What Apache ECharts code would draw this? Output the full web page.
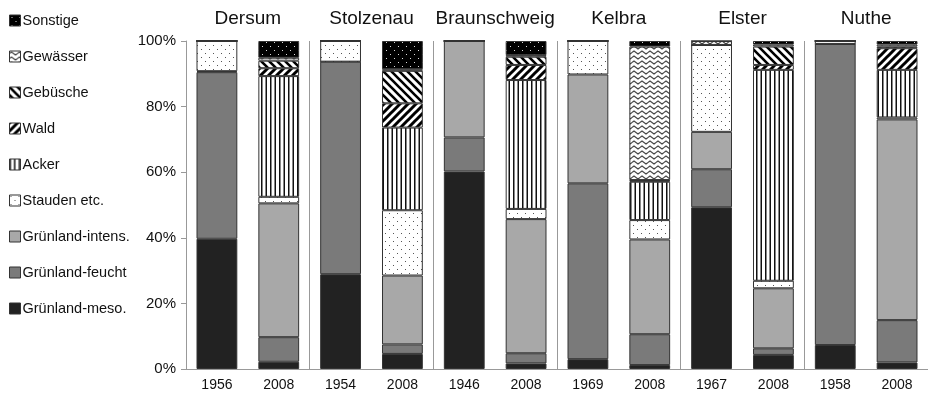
<!DOCTYPE html>
<html>
<head>
<meta charset="UTF-8">
<title>Landnutzung</title>
<script src="https://cdn.jsdelivr.net/npm/echarts@6/dist/echarts.min.js"></script>
<style>
    *{padding:0;margin:0}
    body{background:#fff}
    #chart{width:928px;height:401px}
</style>
</head>
<body>
<div id="chart"></div>
<script>
    // Kategorien
    var years = ['1956','2008','1954','2008','1946','2008','1969','2008','1967','2008','1958','2008'];
    var sites = ['Dersum','Stolzenau','Braunschweig','Kelbra','Elster','Nuthe'];
    var yTicks = [0,20,40,60,80,100];

    // Anteile in % (von unten nach oben gestapelt)
    var meso      = [39.7, 2.2, 28.9, 4.6, 60.2, 1.7,  3.0,  1.2, 49.3,  4.3,  7.3,  2.0];
    var feucht    = [50.8, 7.5, 64.8, 2.9, 10.4, 3.1, 53.6,  9.4, 11.6,  2.0, 91.8, 12.9];
    var intens    = [ 0.3,40.8,  0, 21.0, 29.4,40.9, 33.2, 28.9, 11.4, 18.3,  0,   61.2];
    var stauden   = [ 9.2, 2.0,  6.3,19.9,  0,   3.1, 10.2,  5.9, 26.5,  2.3,  0.9,  0.6];
    var acker     = [ 0,  36.8,  0, 25.2,  0,  39.3,  0,   11.7,  0,   64.3,  0,   14.5];
    var wald      = [ 0,   2.4,  0,  7.4,  0,   4.6,  0,    0.3,  0,    1.5,  0,    6.6];
    var gebuesche = [ 0,   2.3,  0,  9.9,  0,   2.5,  0,    0.2,  0,    5.6,  0,    0.5];
    var gewaesser = [ 0,   0.9,  0,  0.5,  0,   0.5,  0,   40.7,  1.2,  0.6,  0,    0.6];
    var sonstige  = [ 0,   5.1,  0,  8.6,  0,   4.3,  0,    1.7,  0,    1.1,  0,    1.1];

    // Schraffuren als Canvas-Muster
    function pattern(w, h, draw){
        var c = document.createElement('canvas');
        c.width = w; c.height = h;
        var ctx = c.getContext('2d');
        draw(ctx, w, h);
        return {image: c, repeat: 'repeat'};
    }
    var pStauden = pattern(8, 8, function(ctx){
        ctx.fillStyle = '#fff'; ctx.fillRect(0,0,8,8);
        ctx.fillStyle = '#555';
        ctx.fillRect(1,1,1,1); ctx.fillRect(5,5,1,1);
    });
    var pAcker = pattern(9, 4, function(ctx){
        ctx.fillStyle = '#fff'; ctx.fillRect(0,0,9,4);
        ctx.fillStyle = '#111';
        ctx.fillRect(0,0,1.5,4); ctx.fillRect(4.5,0,1.5,4);
    });
    var pWald = pattern(8, 8, function(ctx){
        ctx.fillStyle = '#fff'; ctx.fillRect(0,0,8,8);
        ctx.strokeStyle = '#000'; ctx.lineWidth = 3;
        ctx.beginPath();
        ctx.moveTo(-2,10); ctx.lineTo(10,-2);
        ctx.moveTo(-6,6); ctx.lineTo(6,-6);
        ctx.moveTo(2,14); ctx.lineTo(14,2);
        ctx.stroke();
    });
    var pGebuesche = pattern(8, 8, function(ctx){
        ctx.fillStyle = '#fff'; ctx.fillRect(0,0,8,8);
        ctx.strokeStyle = '#000'; ctx.lineWidth = 2.6;
        ctx.beginPath();
        ctx.moveTo(-2,-2); ctx.lineTo(10,10);
        ctx.moveTo(-6,2); ctx.lineTo(6,14);
        ctx.moveTo(2,-6); ctx.lineTo(14,6);
        ctx.stroke();
    });
    var pGewaesser = pattern(8, 5, function(ctx){
        ctx.fillStyle = '#fff'; ctx.fillRect(0,0,8,5);
        ctx.strokeStyle = '#444'; ctx.lineWidth = 1.1;
        ctx.beginPath();
        ctx.moveTo(0,2.5); ctx.lineTo(2,1); ctx.lineTo(4,2.5); ctx.lineTo(6,4); ctx.lineTo(8,2.5);
        ctx.stroke();
    });
    var pSonstige = pattern(8, 8, function(ctx){
        ctx.fillStyle = '#000'; ctx.fillRect(0,0,8,8);
        ctx.fillStyle = '#ddd';
        ctx.fillRect(2,2,1,1); ctx.fillRect(6,6,1,1);
    });

    var layers = [
        {name:'Grünland-meso.',   data:meso,      color:'#222222'},
        {name:'Grünland-feucht',  data:feucht,    color:'#7a7a7a'},
        {name:'Grünland-intens.', data:intens,    color:'#a8a8a8'},
        {name:'Stauden etc.',     data:stauden,   color:pStauden},
        {name:'Acker',            data:acker,     color:pAcker},
        {name:'Wald',             data:wald,      color:pWald},
        {name:'Gebüsche',         data:gebuesche, color:pGebuesche},
        {name:'Gewässer',         data:gewaesser, color:pGewaesser},
        {name:'Sonstige',         data:sonstige,  color:pSonstige}
    ];

    var series = layers.map(function(l){
        return {
            name: l.name,
            type: 'bar',
            stack: 'total',
            barWidth: '66%',
            xAxisIndex: 0,
            data: l.data,
            itemStyle: {color: l.color, borderColor: '#333', borderWidth: 1},
            emphasis: {disabled: true}
        };
    });

    var font = 'Liberation Sans, Arial, sans-serif';
    var option = {
        animation: false,
        legend: {
            orient: 'vertical',
            left: 4,
            top: 8,
            itemWidth: 11,
            itemHeight: 11,
            itemGap: 21,
            icon: 'rect',
            data: layers.map(function(l){ return l.name; }).reverse(),
            textStyle: {fontFamily: font, fontSize: 14.5, color: '#111', padding: [0,0,0,-3]},
            itemStyle: {borderColor: '#333', borderWidth: 1}
        },
        grid: {left: 186, right: 0, top: 41, bottom: 32},
        xAxis: [
            {
                type: 'category',
                data: years,
                position: 'bottom',
                axisLine: {lineStyle: {color: '#999'}},
                axisTick: {length: 5, lineStyle: {color: '#999'}},
                axisLabel: {fontFamily: font, fontSize: 14, color: '#111', margin: 9, interval: 0}
            },
            {
                type: 'category',
                data: sites,
                position: 'top',
                axisLine: {show: false},
                axisTick: {show: false},
                axisLabel: {fontFamily: font, fontSize: 19, color: '#111', margin: 13, interval: 0},
                splitLine: {
                    show: true,
                    interval: function(i){ return i > 0; },
                    lineStyle: {color: '#999', width: 1}
                }
            }
        ],
        yAxis: {
            type: 'value',
            min: yTicks[0],
            max: yTicks[yTicks.length - 1],
            interval: 20,
            axisLine: {show: true, lineStyle: {color: '#999'}},
            axisTick: {show: true, length: 5, lineStyle: {color: '#999'}},
            splitLine: {show: false},
            axisLabel: {fontFamily: font, fontSize: 15, color: '#111', margin: 10, formatter: '{value}%'}
        },
        series: series
    };

    var chart = echarts.init(document.getElementById('chart'));
    chart.setOption(option);
</script>
</body>
</html>
